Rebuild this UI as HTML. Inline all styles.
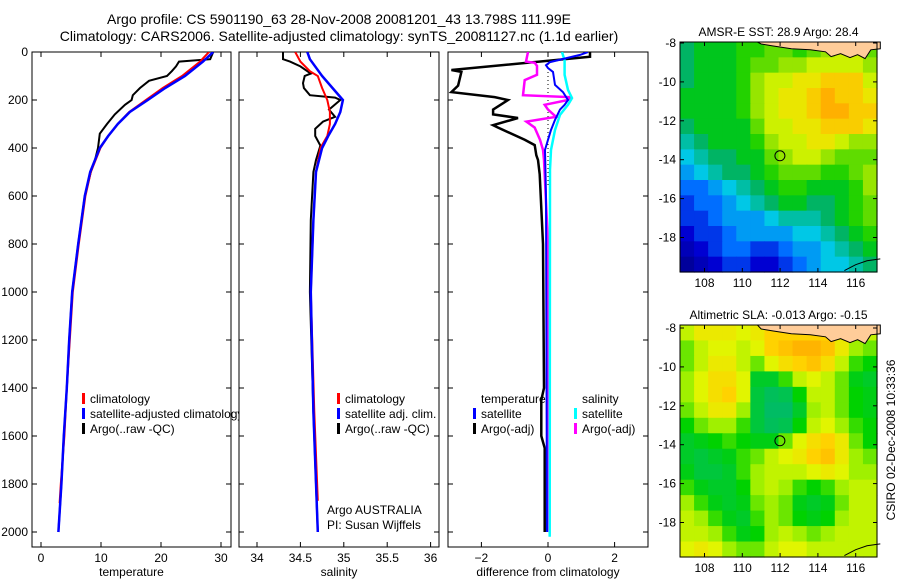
<!DOCTYPE html>
<html><head><meta charset="utf-8"><style>
body{margin:0;background:#fff}
svg{display:block;font-family:"Liberation Sans",sans-serif;font-size:12px}
</style></head><body>
<svg id="fig" width="900" height="580" viewBox="0 0 900 580" xmlns="http://www.w3.org/2000/svg">
<rect width="900" height="580" fill="#fff"/>
<text x="339" y="24" text-anchor="middle" font-size="14">Argo profile: CS 5901190_63 28-Nov-2008 20081201_43 13.798S 111.99E</text>
<text x="339" y="41" text-anchor="middle" font-size="14">Climatology: CARS2006. Satellite-adjusted climatology: synTS_20081127.nc (1.1d earlier)</text>
<g id="g1"></g>
<g id="g2"></g>
<g id="g3"></g>
<g id="m1"></g>
<g id="m2"></g>
<text transform="translate(895,440) rotate(-90)" text-anchor="middle">CSIRO 02-Dec-2008 10:33:36</text>
</svg>
<script>
// ---- data ----
const depthTicks=[0,200,400,600,800,1000,1200,1400,1600,1800,2000];
const tempTicks=[0,10,20,30];
const salTicks=[34,34.5,35,35.5,36];
const salTickLabels=["34","34.5","35","35.5","36"];
const diffTicks=[-2,0,2];
const diffTickLabels=["\u22122","0","2"];
const tClimDepth=[0,40,100,150,200,250,300,350,400,500,600,800,1000,1200,1400,1600,1800,1880];
const tClim=[28,26.5,23.5,20.3,17.5,14.7,12.8,11.2,9.9,8.3,7.4,6.3,5.3,4.8,4.3,3.9,3.3,3.1];
const tSatDepth=[0,40,100,150,200,250,300,350,400,500,600,800,1000,1200,1400,1600,1800,2000];
const tSat=[28.7,27,24,20.7,17.8,14.8,12.8,11.2,9.8,8.2,7.3,6.2,5.2,4.7,4.3,3.8,3.4,2.9];
const tArgoDepth=[0,30,40,60,80,100,120,150,180,200,220,260,300,340,400,450,500,600,800,1000,1200,1400,1600,1800,2000];
const tArgo=[28.7,28.2,23,22.5,21.8,21,18,16.5,15.3,15.1,14,12.3,11,9.8,9.5,9,8.3,7.3,6.2,5.2,4.7,4.3,3.8,3.4,2.9];
const sArgoDepth=[0,30,40,60,90,100,130,150,180,190,200,240,270,290,320,350,390,450,500,700,1000,1500,1800,2000];
const sArgo=[34.30,34.30,34.38,34.50,34.62,34.55,34.53,34.54,34.61,34.90,34.96,34.83,34.90,34.76,34.67,34.67,34.73,34.68,34.65,34.62,34.61,34.65,34.68,34.70];
const sClimDepth=[0,40,80,100,150,200,250,300,350,400,500,700,1000,1500,1870];
const sClim=[34.44,34.50,34.61,34.70,34.75,34.81,34.84,34.84,34.81,34.73,34.68,34.65,34.62,34.66,34.70];
const sSatDepth=[0,30,70,100,150,200,250,300,350,400,500,700,1000,1500,2000];
const sSat=[34.58,34.61,34.69,34.75,34.87,34.99,34.96,34.90,34.82,34.75,34.68,34.65,34.62,34.65,34.70];
const dTArgoDepth=[0,20,75,83,140,167,188,200,240,260,275,305,315,366,388,430,450,510,800,1400,1450,1600,1650,2000];
const dTArgo=[1.26,1.26,-2.9,-2.6,-2.7,-2.9,-1.6,-1.2,-1.65,-1.65,-0.9,-1.65,-1.5,-0.7,-0.4,-0.35,-0.3,-0.25,-0.15,-0.12,-0.2,-0.2,-0.1,-0.1];
const dSArgoDepth=[0,40,45,58,95,117,180,188,200,220,240,270,290,315,366,408,450,800,2000];
const dSArgo=[-0.6,-0.66,-0.4,-0.33,-0.33,-0.7,-0.75,0.66,0.6,-0.1,0,0.24,-0.65,-0.4,-0.24,-0.15,-0.12,0.0,0.02];
const dTSatDepth=[0,12,42,55,67,83,137,167,200,220,240,283,325,366,408,600,2000];
const dTSat=[1.2,0.96,0.06,-0.06,0,0.15,0.21,0.45,0.6,0.5,0.36,0.21,0.09,0,-0.09,-0.06,-0.03];
const dSSatDepth=[0,35,95,158,192,220,262,325,408,490,2000,2020];
const dSSat=[0.42,0.5,0.5,0.6,0.72,0.6,0.36,0.21,0.09,0.06,0.05,0.05];
const mapLonTicks=[108,110,112,114,116];
const mapLatTicks=[-8,-10,-12,-14,-16,-18];
const sstGrid=[
[4.5,5,5,5,5.5,5.5,6,6,5.5,6,6.5,7,7,6],
[4.5,5,5,5,5.5,6,6,6.5,6.5,7,7,7,7,6.5],
[4.5,5,5,5,5.5,6.5,7,7,7.5,7.5,8,8,8,7],
[5,5,5,5,5.5,6.5,7,7.5,7.5,8,8.5,8,8,7.5],
[5,5,5,5,5.5,6.5,7,7.5,7.5,8,8.5,8.5,8,8],
[4.5,5,5,5,5,6,7,7,7.5,7.5,8,8,8,7.5],
[4,4.5,5,5,5,5.5,6.5,7,7,7.5,7.5,7,6.5,6.5],
[3.5,4,4.5,4.5,5,5,6,6.5,7,7,6.5,6,6,6],
[3,3.5,4,4.5,4.5,5,5.5,6,6,6,5.5,5.5,6,6.5],
[2.5,2.5,3,3.5,4,4.5,5,5.5,5.5,5,5,5,5.5,6.5],
[2,2.5,2.5,3,3.5,4,4.5,5,5,4.5,4.5,5,5.5,6],
[2,2,2.5,3,3,3,3.5,4,4,4,4.5,5,5.5,6],
[1.5,2,2,2.5,3,3,3,3,3.5,3.5,4,4.5,5,5.5],
[1,1.5,2,2.5,2.5,2,2,2.5,3,3,3.5,4,4.5,5],
[0.5,1,1.5,2,2,1.5,1.5,2,2.5,3,3.5,3.5,4,4.5]];
const slaGrid=[
[6,7,7,7,6.5,7,8,8,8,8,8,7,6,6],
[5,6,6.5,6.5,6,6.5,8,8.5,9,9,8.5,7,5.5,5],
[5,6,7,7,6,5,6.5,7.5,8,8.5,7.5,6,4.5,4],
[5.5,6.5,7.5,7.5,6.5,3,3,4.5,6,6.5,6,5,3.5,3],
[5.5,6.5,7.5,8,6.5,2.5,1.5,2,4,6,6,5,4,3.5],
[5,6,7,7,5.5,2.5,1,1,3,5.5,6,5,4,3.5],
[4,5,5.5,5.5,4.5,2.5,1.5,2,4,6,6.5,5.5,4.5,4],
[3,3.5,4,4.5,4,3.5,3.5,5,6.5,7.5,8,7,5,4],
[3,2.5,3,3.5,4.5,5,6,6.5,7,8,8.5,7,5.5,5],
[3.5,2.5,2.5,3,4.5,5.5,6,6,6,6.5,7,6.5,5.5,5.5],
[4.5,3.5,3,3,4,5.5,6,5.5,4.5,4,4.5,5.5,6,6],
[5.5,4.5,3.5,3,3.5,5,5.5,5,3.5,3,3.5,5,6,6],
[6,5.5,4.5,3.5,3,4.5,5.5,5,4,3.5,4,5.5,6,6],
[6,6,5.5,4.5,3.5,4,5.5,6,5.5,5,5.5,6,6,6],
[6.5,7,6.5,5.5,5,5,6,6.5,6.5,6,6,6,6,6]];
const floatLon=111.99, floatLat=-13.798;

// ---- helpers ----
const NS="http://www.w3.org/2000/svg";
function mk(tag,attrs,parent){const e=document.createElementNS(NS,tag);for(const k in attrs)e.setAttribute(k,attrs[k]);parent.appendChild(e);return e;}
const yD=d=>52+d*0.24;
function panel(g,x0,x1,xs,ticks,labels,title,clipId){
  const y0=52,y1=547;
  const bg=mk('rect',{x:x0,y:y0,width:x1-x0,height:y1-y0,fill:'#fff',stroke:'#000','stroke-width':1},g);
  
  const cp=mk('clipPath',{id:clipId},g);mk('rect',{x:x0,y:y0,width:x1-x0,height:y1-y0},cp);
  ticks.forEach((t,i)=>{const x=xs(t);
    mk('line',{x1:x,x2:x,y1:y0,y2:y0+5,stroke:'#000'},g);mk('line',{x1:x,x2:x,y1:y1,y2:y1-5,stroke:'#000'},g);
    const tx=mk('text',{x:x,y:562,'text-anchor':'middle'},g);tx.textContent=labels[i];
    });
  depthTicks.forEach(d=>{const y=yD(d);
    mk('line',{x1:x0,x2:x0+5,y1:y,y2:y,stroke:'#000'},g);mk('line',{x1:x1,x2:x1-5,y1:y,y2:y,stroke:'#000'},g);});
  const tt=mk('text',{x:(x0+x1)/2,y:576,'text-anchor':'middle'},g);tt.textContent=title;
  
}
function series(g,xs,depths,vals,color,w,name,clipId){
  const pts=depths.map((d,i)=>xs(vals[i]).toFixed(1)+','+yD(d).toFixed(1)).join(' ');
  const p=mk('polyline',{points:pts,fill:'none',stroke:color,'stroke-width':w,'clip-path':'url(#'+clipId+')'},g);
  
}
function legend(g,x,y,color,label){
  const r=mk('rect',{x:x,y:y-10,width:3,height:11,fill:color},g);
  
  if(label){const t=mk('text',{x:x+8,y:y},g);t.textContent=label;
  }
}
function txt(g,x,y,s,name){const t=mk('text',{x:x,y:y},g);t.textContent=s;}

// ---- panel 1 temperature ----
const g1=document.getElementById('g1');
const xT=t=>41+t*6;
panel(g1,32,231,xT,tempTicks,tempTicks.map(String),'temperature','c1');
depthTicks.forEach(d=>{const t=mk('text',{x:28,y:yD(d)+4,'text-anchor':'end'},g1);t.textContent=String(d);
  });
series(g1,xT,tArgoDepth,tArgo,'#000',2,'temp-argo-line','c1');
series(g1,xT,tClimDepth,tClim,'#f00',2,'temp-climatology-line','c1');
series(g1,xT,tSatDepth,tSat,'#00f',2.5,'temp-satellite-line','c1');
legend(g1,82,403,'#f00','climatology');legend(g1,82,418,'#00f','satellite-adjusted climatology');legend(g1,82,433,'#000','Argo(..raw -QC)');

// ---- panel 2 salinity ----
const g2=document.getElementById('g2');
const xS=s=>257+(s-34)*86.8;
panel(g2,239,439,xS,salTicks,salTickLabels,'salinity','c2');
series(g2,xS,sArgoDepth,sArgo,'#000',2,'sal-argo-line','c2');
series(g2,xS,sClimDepth,sClim,'#f00',2,'sal-climatology-line','c2');
series(g2,xS,sSatDepth,sSat,'#00f',2.5,'sal-satellite-line','c2');
legend(g2,337,403,'#f00','climatology');legend(g2,337,418,'#00f','satellite adj. clim.');legend(g2,337,433,'#000','Argo(..raw -QC)');
txt(g2,327,514,'Argo AUSTRALIA','argo-australia-label');txt(g2,327,529,'PI: Susan Wijffels','pi-label');

// ---- panel 3 difference ----
const g3=document.getElementById('g3');
const xDf=v=>548+v*33.3;
panel(g3,448,648,xDf,diffTicks,diffTickLabels,'difference from climatology','c3');
const zl=mk('line',{x1:xDf(0),x2:xDf(0),y1:52,y2:yD(560),stroke:'#000','stroke-dasharray':'1,3'},g3);

series(g3,xDf,dTArgoDepth,dTArgo,'#000',2.5,'temp-diff-argo-line','c3');
series(g3,xDf,dSArgoDepth,dSArgo,'#f0f',2.5,'sal-diff-argo-line','c3');
series(g3,xDf,dSSatDepth,dSSat,'#0ff',2.5,'sal-diff-satellite-line','c3');
series(g3,xDf,dTSatDepth,dTSat,'#00f',2,'temp-diff-satellite-line','c3');
txt(g3,481,403,'temperature','legend-temperature-heading');txt(g3,582,403,'salinity','legend-salinity-heading');
legend(g3,473,418,'#00f','satellite');legend(g3,473,433,'#000','Argo(-adj)');
legend(g3,574,418,'#0ff','satellite');legend(g3,574,433,'#f0f','Argo(-adj)');

// ---- maps ----
function cmap(stops,v){for(let i=1;i<stops.length;i++){if(v<=stops[i][0]){const a=stops[i-1],b=stops[i],f=(v-a[0])/(b[0]-a[0]);
  const c=[0,1,2].map(k=>Math.round(a[1][k]+(b[1][k]-a[1][k])*f));return 'rgb('+c.join(',')+')';}}const l=stops[stops.length-1][1];return 'rgb('+l.join(',')+')';}
const sstStops=[[0,[0,0,128]],[1.5,[0,0,210]],[2.5,[0,110,255]],[3.5,[0,200,230]],[4.5,[0,180,100]],[5.2,[0,205,0]],[6.3,[130,225,0]],[7.2,[225,245,0]],[8.2,[255,195,0]],[9,[255,145,0]],[10,[190,0,0]]];
const slaStops=[[0,[0,180,120]],[2,[0,195,80]],[4,[0,210,0]],[5.5,[160,240,0]],[6.5,[225,245,0]],[8,[255,210,0]],[10,[255,150,0]]];
function map(id,top,bot,latY0,grid,stops,title){
  const g=document.getElementById(id);const L=680,R=877;
  const xL=lon=>704.5+(lon-108)*18.9;const yL=lat=>latY0+(-8-lat)*19.45;
  const rows=grid.length,cols=grid[0].length,cw=(R-L)/cols,ch=(bot-top)/rows;
  const cells=mk('g',{},g);
  grid.forEach((row,r)=>row.forEach((v,c)=>{const e=mk('rect',{x:L+c*cw,y:top+r*ch,width:cw+0.6,height:ch+0.6,fill:cmap(stops,v)},cells);
    }));
  // land (Java coast, thin strip along the top edge)
  const topLat=-8-(top-latY0)/19.45;
  const land=[[110.8,topLat],[117.3,topLat],[117.3,-8.3],[116.8,-8.35],[116.5,-8.8],[116.1,-8.6],[115.7,-8.75],[115.2,-8.55],[114.7,-8.7],[114.4,-8.45],[113.6,-8.35],[112.6,-8.3],[111.6,-8.15],[111.0,-8.05]];
  const lp=mk('polygon',{points:land.map(p=>xL(p[0]).toFixed(1)+','+yL(p[1]).toFixed(1)).join(' '),fill:'#ffcc99',stroke:'#000','stroke-width':1},g);
  
  const au=[[115.4,-19.7],[116.0,-19.4],[116.6,-19.2],[117.3,-19.1]];
  const ap=mk('polyline',{points:au.map(p=>xL(p[0]).toFixed(1)+','+yL(p[1]).toFixed(1)).join(' '),fill:'none',stroke:'#000'},g);
  
  const fr=mk('rect',{x:L,y:top,width:R-L,height:bot-top,fill:'none',stroke:'#000'},g);
  
  const fc=mk('circle',{cx:xL(floatLon),cy:yL(floatLat),r:5,fill:'none',stroke:'#000'},g);
  
  mapLonTicks.forEach(lon=>{const x=xL(lon);mk('line',{x1:x,x2:x,y1:bot,y2:bot-4,stroke:'#000'},g);mk('line',{x1:x,x2:x,y1:top,y2:top+4,stroke:'#000'},g);
    const t=mk('text',{x:x,y:bot+15,'text-anchor':'middle'},g);t.textContent=String(lon);});
  mapLatTicks.forEach(lat=>{const y=yL(lat);mk('line',{x1:L,x2:L+4,y1:y,y2:y,stroke:'#000'},g);mk('line',{x1:R,x2:R-4,y1:y,y2:y,stroke:'#000'},g);
    const t=mk('text',{x:L-4,y:y+4,'text-anchor':'end'},g);t.textContent=String(lat);});
  const tt=mk('text',{x:(L+R)/2,y:top-6,'text-anchor':'middle'},g);tt.textContent=title;
}
map('m1',42,272,43,sstGrid,sstStops,'AMSR-E SST: 28.9 Argo: 28.4');
map('m2',325,557,328,slaGrid,slaStops,'Altimetric SLA: -0.013 Argo: -0.15');
</script>
</body></html>
